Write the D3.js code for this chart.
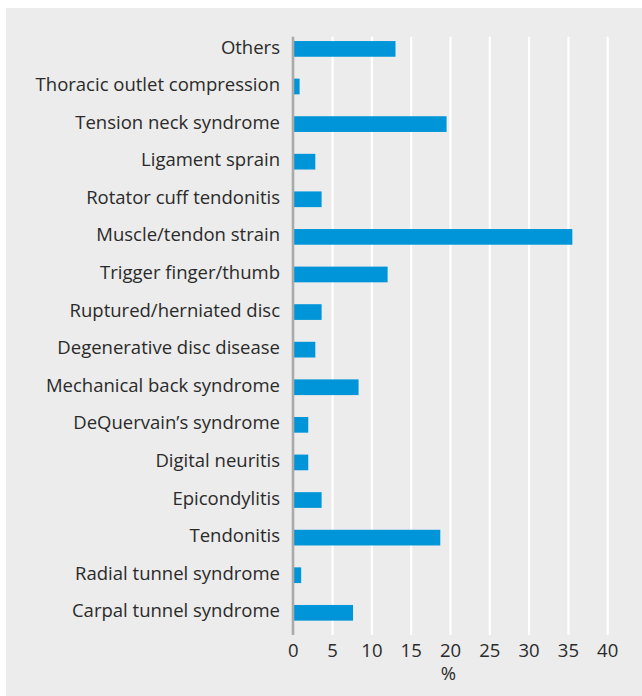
<!DOCTYPE html>
<html><head><meta charset="utf-8">
<script src="https://cdn.jsdelivr.net/npm/d3@7"></script>
<style>body{margin:0;background:#fff}svg{display:block}</style>
</head><body>
<svg id="c" width="642" height="696"></svg>
<script>
const categories = ["Others","Thoracic outlet compression","Tension neck syndrome","Ligament sprain","Rotator cuff tendonitis","Muscle/tendon strain","Trigger finger/thumb","Ruptured/herniated disc","Degenerative disc disease","Mechanical back syndrome","DeQuervain\u2019s syndrome","Digital neuritis","Epicondylitis","Tendonitis","Radial tunnel syndrome","Carpal tunnel syndrome"];
const values = [13, 0.8, 19.5, 2.8, 3.6, 35.5, 12, 3.6, 2.8, 8.3, 1.9, 1.9, 3.6, 18.7, 1.0, 7.6];
const xTicks = [0,5,10,15,20,25,30,35,40];
const xTitle = "%";

(function(){
const svg = d3.select("#c");
const font = "'Open Sans', sans-serif";
svg.append("rect").attr("x",6).attr("y",8).attr("width",636).attr("height",688).attr("fill","#ebeceb");

const x = d3.scaleLinear().domain([0,40]).range([293.3,607.7]);
const y = d3.scalePoint().domain(categories).range([48.9,612.8]);
const barH = 15.7, yTop = 36.7, yBottom = 635;

svg.append("g").selectAll("line").data(xTicks.filter(d=>d>0)).join("line")
  .attr("x1",d=>x(d)).attr("x2",d=>x(d)).attr("y1",yTop).attr("y2",yBottom)
  .attr("stroke","#fff").attr("stroke-width",2.2);

svg.append("g").selectAll("rect").data(categories).join("rect")
  .attr("x",x(0)).attr("y",(d)=>y(d)-barH/2)
  .attr("width",(d,i)=>x(values[i])-x(0)).attr("height",barH)
  .attr("fill","#0095d9");

svg.append("line").attr("x1",x(0)-0.3).attr("x2",x(0)-0.3).attr("y1",yTop).attr("y2",yBottom)
  .attr("stroke","#a9aaaa").attr("stroke-width",2.6);

svg.append("g").selectAll("text").data(categories).join("text")
  .attr("x",280).attr("y",d=>y(d)+4.6)
  .attr("text-anchor","end").attr("font-family",font).attr("font-size",18.5)
  .attr("fill","#2a2a2a").text(d=>d);

svg.append("g").selectAll("text").data(xTicks).join("text")
  .attr("x",d=>x(d)).attr("y",657).attr("text-anchor","middle")
  .attr("font-family",font).attr("font-size",18.5).attr("fill","#2a2a2a").text(d=>d);

svg.append("text").attr("x",x(20)-2).attr("y",680).attr("text-anchor","middle")
  .attr("font-family",font).attr("font-size",18.5).attr("fill","#2a2a2a").text(xTitle);
})();
</script>
</body></html>
